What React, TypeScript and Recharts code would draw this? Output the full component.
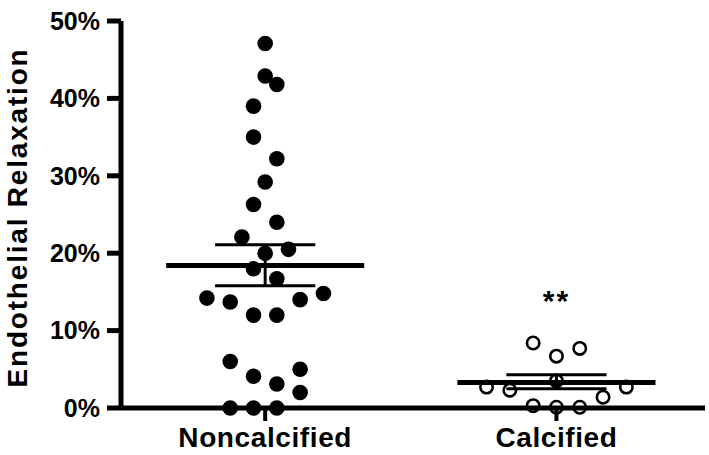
import {
  Label,
  ReferenceDot,
  ReferenceLine,
  Scatter,
  ScatterChart,
  XAxis,
  YAxis,
} from "recharts";

// groups on the x axis (0 = Noncalcified, 1 = Calcified)
const groups = ["Noncalcified", "Calcified"];

// horizontal spread of each dot around its group centre
const noncalcifiedSpread = [
  0, 0, 0.04, -0.04, -0.04, 0.04, 0, -0.04, 0.04, -0.08, 0.08, 0, -0.04, 0.04,
  -0.2, -0.12, 0.12, 0.2, -0.04, 0.04, -0.12, 0.12, -0.04, 0.04, 0.12, -0.12,
  -0.04, 0.04,
];
const noncalcifiedValues = [
  47.1, 42.9, 41.8, 39.0, 35.0, 32.2, 29.2, 26.3, 24.0, 22.1, 20.5, 20.0, 18.0,
  16.7, 14.2, 13.7, 14.0, 14.8, 12.0, 12.0, 6.0, 5.0, 4.1, 3.1, 2.0, 0, 0, 0,
];

const calcifiedSpread = [-0.08, 0, 0.08, -0.24, -0.16, 0, 0.24, 0.16, -0.08, 0, 0.08];
const calcifiedValues = [8.4, 6.7, 7.7, 2.7, 2.3, 3.5, 2.7, 1.4, 0.3, 0.1, 0.1];

// mean +/- SEM per group
const groupMeans = [18.4, 3.3];
const semUpper = [21.1, 4.3];
const semLower = [15.8, 2.5];
const significance = ["", "**"];

const yTicks = [0, 10, 20, 30, 40, 50];

const FONT = "Arial, 'Liberation Sans', Helvetica, sans-serif";

const noncalcifiedData = noncalcifiedValues.map((v, i) => ({
  x: 0 + noncalcifiedSpread[i],
  y: v,
}));
const calcifiedData = calcifiedValues.map((v, i) => ({
  x: 1 + calcifiedSpread[i],
  y: v,
}));

const FilledDot = (props: any) => (
  <circle cx={props.cx} cy={props.cy} r={7.8} fill="#000" />
);
const OpenDot = (props: any) => (
  <circle cx={props.cx} cy={props.cy} r={6.2} fill="none" stroke="#000" strokeWidth={2.6} />
);

const YTitle = () => (
  <text
    transform="translate(27, 217.5) rotate(-90)"
    textAnchor="middle"
    fontFamily={FONT}
    fontWeight="bold"
    fontSize={28}
    letterSpacing={1.8}
    fill="#000"
  >
    Endothelial Relaxation
  </text>
);

export default function App() {
  return (
    <div style={{ position: "absolute", left: 0, top: 0, background: "#fff" }}>
      <ScatterChart
        width={709}
        height={455}
        margin={{ top: 21, right: 4, bottom: 0, left: 0 }}
      >
        <XAxis
          type="number"
          dataKey="x"
          domain={[-0.495, 1.51]}
          ticks={[0, 1]}
          tickFormatter={(i: number) => groups[i]}
          height={47}
          tickSize={13}
          tickMargin={6}
          axisLine={{ stroke: "#000", strokeWidth: 5 }}
          tickLine={{ stroke: "#000", strokeWidth: 4 }}
          tick={{
            fill: "#000",
            fontFamily: FONT,
            fontWeight: "bold",
            fontSize: 28,
            letterSpacing: 0.6,
          }}
        />
        <YAxis
          type="number"
          dataKey="y"
          domain={[0, 50]}
          ticks={yTicks}
          tickFormatter={(v: number) => `${v}%`}
          width={121}
          tickSize={14}
          tickMargin={7}
          axisLine={{ stroke: "#000", strokeWidth: 5 }}
          tickLine={{ stroke: "#000", strokeWidth: 5 }}
          tick={{
            fill: "#000",
            fontFamily: FONT,
            fontWeight: "bold",
            fontSize: 25,
          }}
        >
          <Label content={<YTitle />} />
        </YAxis>

        {groups.map((g, i) => (
          <ReferenceLine
            key={`mean-${g}`}
            segment={[
              { x: i - 0.34, y: groupMeans[i] },
              { x: i + 0.34, y: groupMeans[i] },
            ]}
            stroke="#000"
            strokeWidth={5}
            ifOverflow="visible"
          />
        ))}
        {groups.map((g, i) => (
          <ReferenceLine
            key={`up-${g}`}
            segment={[
              { x: i - 0.172, y: semUpper[i] },
              { x: i + 0.172, y: semUpper[i] },
            ]}
            stroke="#000"
            strokeWidth={3}
            ifOverflow="visible"
          />
        ))}
        {groups.map((g, i) => (
          <ReferenceLine
            key={`lo-${g}`}
            segment={[
              { x: i - 0.172, y: semLower[i] },
              { x: i + 0.172, y: semLower[i] },
            ]}
            stroke="#000"
            strokeWidth={3}
            ifOverflow="visible"
          />
        ))}
        {groups.map((g, i) => (
          <ReferenceLine
            key={`bar-${g}`}
            segment={[
              { x: i, y: semLower[i] },
              { x: i, y: semUpper[i] },
            ]}
            stroke="#000"
            strokeWidth={3}
            ifOverflow="visible"
          />
        ))}

        <Scatter
          data={noncalcifiedData}
          shape={<FilledDot />}
          isAnimationActive={false}
        />
        <Scatter
          data={calcifiedData}
          shape={<OpenDot />}
          isAnimationActive={false}
        />

        {significance.map((s, i) =>
          s ? (
            <ReferenceDot
              key={`sig-${i}`}
              x={i}
              y={13.9}
              r={1}
              fill="none"
              stroke="none"
              label={{
                value: s,
                position: "center",
                fill: "#000",
                fontFamily: FONT,
                fontWeight: "bold",
                fontSize: 30,
                letterSpacing: 2,
              }}
            />
          ) : null
        )}
      </ScatterChart>
    </div>
  );
}
